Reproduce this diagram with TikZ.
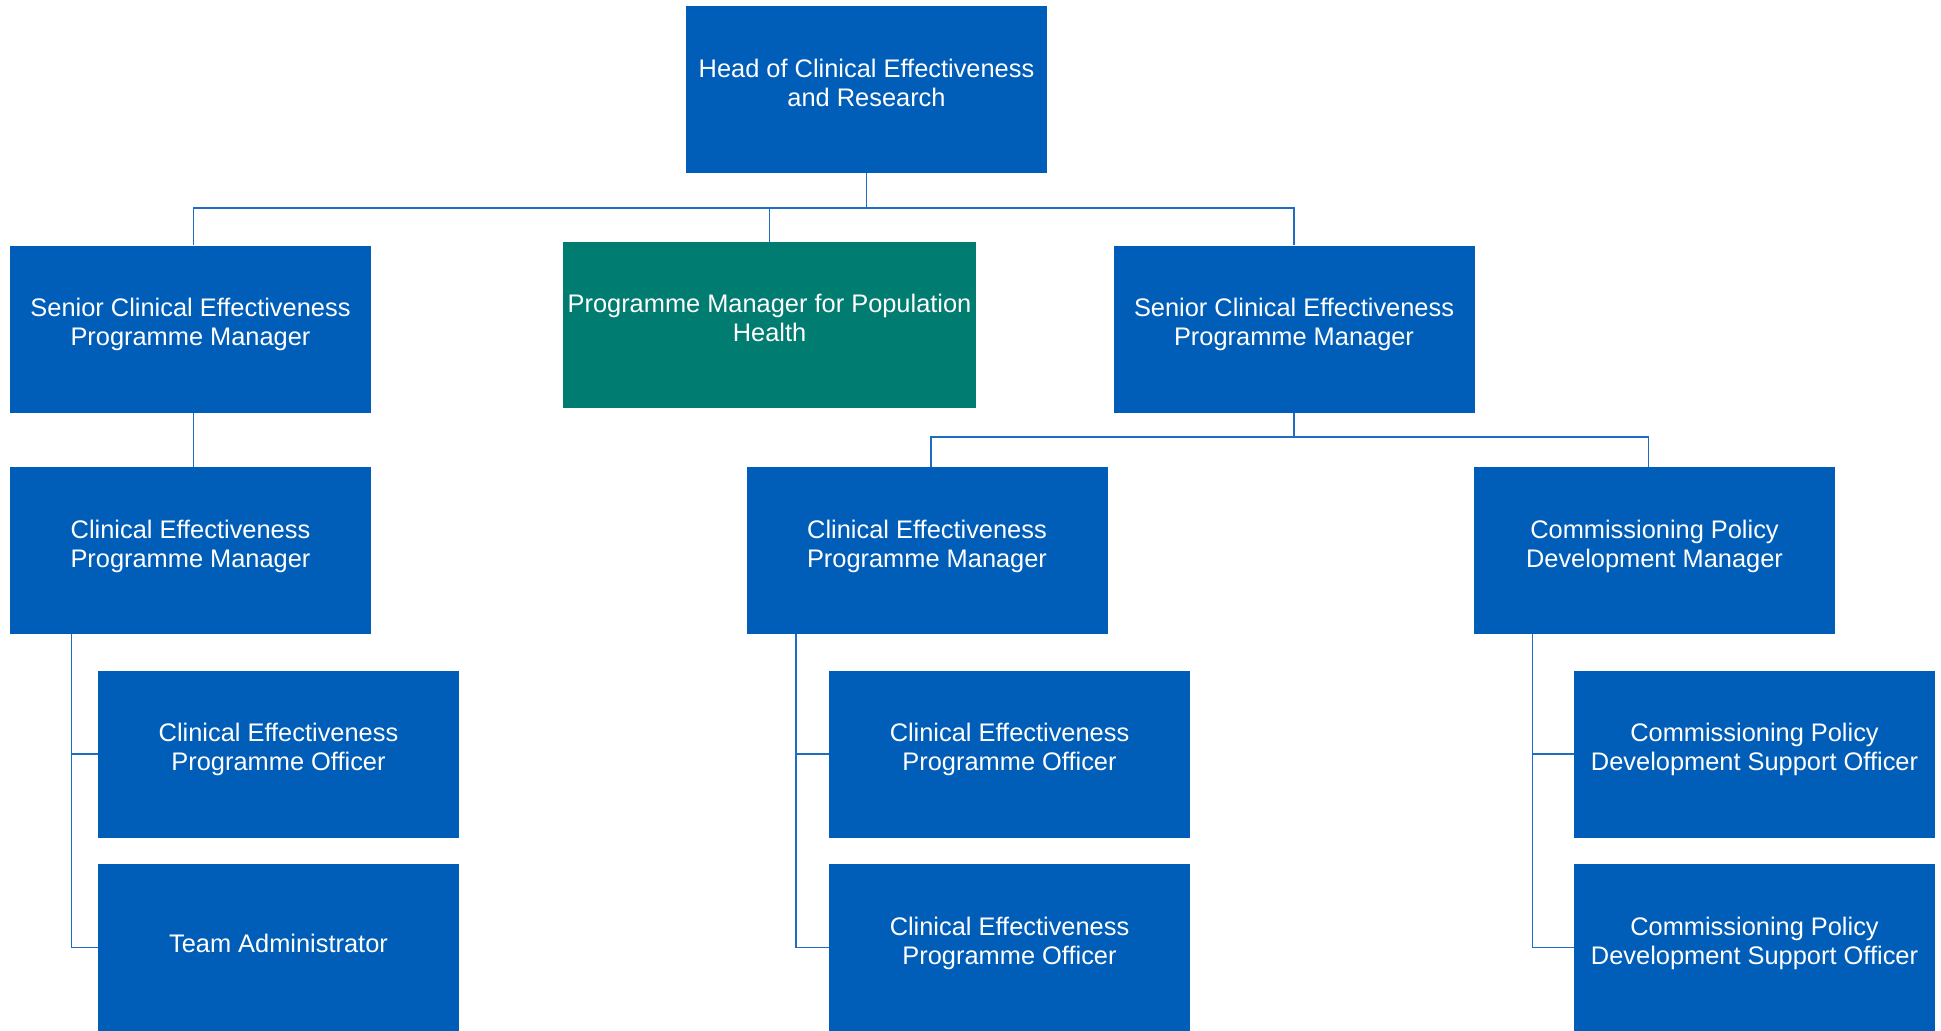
\documentclass[tikz,border=0pt]{standalone}
\usepackage{fontspec}
\setmainfont{Liberation Sans}
\definecolor{nhsblue}{HTML}{005EB8}
\definecolor{nhsgreen}{HTML}{007C70}
\definecolor{linkblue}{HTML}{1F6CC4}
\tikzset{
	orgbox/.style={rectangle, fill=nhsblue, text=white, inner sep=0pt,
		minimum width=180.5pt, minimum height=83.5pt, align=center, text depth=7pt,
		font=\fontsize{12.7}{14.4}\selectfont},
	greenbox/.style={orgbox, fill=nhsgreen, minimum width=206.5pt, minimum height=83pt},
	link/.style={draw=linkblue, line width=0.7pt}
}
\begin{document}
\begin{tikzpicture}[x=0.5pt, y=-0.5pt]
		\useasboundingbox (0,0) rectangle (1941,1030);
		% top
		\node[orgbox] (head) at (866.5,89.5) {Head of Clinical Effectiveness\\and Research};
		% second row
		\node[orgbox] (senior1) at (190.5,329) {Senior Clinical Effectiveness\\Programme Manager};
		\node[greenbox] (pophealth) at (769.5,325) {Programme Manager for Population\\Health};
		\node[orgbox] (senior2) at (1294,329) {Senior Clinical Effectiveness\\Programme Manager};
		% third row
		\node[orgbox] (cepm1) at (190.5,550.5) {Clinical Effectiveness\\Programme Manager};
		\node[orgbox] (cepm2) at (927,550.5) {Clinical Effectiveness\\Programme Manager};
		\node[orgbox] (cpdm) at (1654.5,550.5) {Commissioning Policy\\Development Manager};
		% fourth and fifth rows
		\node[orgbox] (ceo1) at (278.5,754) {Clinical Effectiveness\\Programme Officer};
		\node[orgbox, text depth=4pt] (admin) at (278.5,947.5) {Team Administrator};
		\node[orgbox] (ceo2) at (1009.5,754) {Clinical Effectiveness\\Programme Officer};
		\node[orgbox] (ceo3) at (1009.5,947.5) {Clinical Effectiveness\\Programme Officer};
		\node[orgbox] (cpdso1) at (1754.5,754) {Commissioning Policy\\Development Support Officer};
		\node[orgbox] (cpdso2) at (1754.5,947.5) {Commissioning Policy\\Development Support Officer};
		% connectors
		\coordinate (bus1) at (0,208);
		\coordinate (bus2) at (0,437);
		\draw[link] (head.south) -- (head.south |- bus1);
		\draw[link] ([xshift=1.5pt]senior1.north) |- (senior2.north |- bus1) -- (senior2.north);
		\draw[link] (pophealth.north) -- (pophealth.north |- bus1);
		\draw[link] ([xshift=1.5pt]senior1.south) -- ([xshift=1.5pt]cepm1.north);
		\draw[link] (senior2.south) -- (senior2.south |- bus2);
		\draw[link] ([xshift=2pt]cepm2.north) |- ([xshift=-3pt]cpdm.north |- bus2) -- ([xshift=-3pt]cpdm.north);
		\coordinate (spine1) at ([xshift=31pt]cepm1.south west);
		\coordinate (spine2) at ([xshift=25pt]cepm2.south west);
		\coordinate (spine3) at ([xshift=29.5pt]cpdm.south west);
		\draw[link] (spine1) |- (admin.west);
		\draw[link] (spine1 |- ceo1.west) -- (ceo1.west);
		\draw[link] (spine2) |- (ceo3.west);
		\draw[link] (spine2 |- ceo2.west) -- (ceo2.west);
		\draw[link] (spine3) |- (cpdso2.west);
		\draw[link] (spine3 |- cpdso1.west) -- (cpdso1.west);
\end{tikzpicture}
\end{document}
